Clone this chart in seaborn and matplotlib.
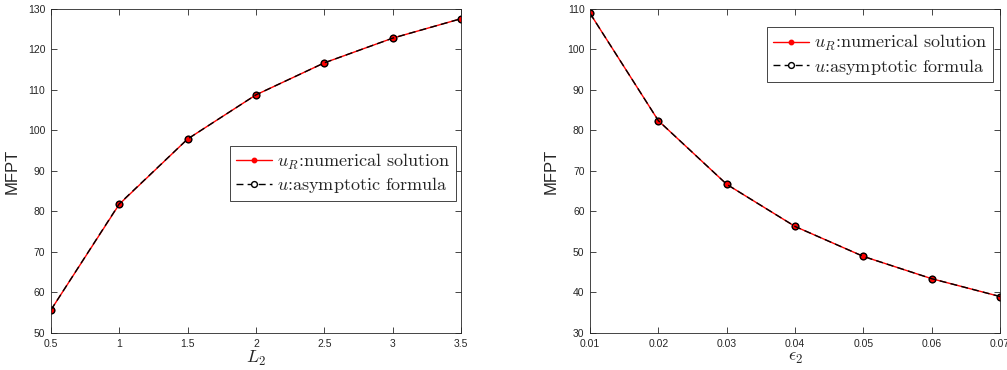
import seaborn as sns
import matplotlib.pyplot as plt
from matplotlib.lines import Line2D
import pandas as pd
import numpy as np

# data
L2 = [0.5, 1.0, 1.5, 2.0, 2.5, 3.0, 3.5]
mfpt_L2_num = [55.7, 81.8, 97.9, 108.8, 116.7, 122.8, 127.6]
mfpt_L2_asy = [55.7, 81.9, 97.9, 108.8, 116.7, 122.8, 127.6]

eps2 = [0.01, 0.02, 0.03, 0.04, 0.05, 0.06, 0.07]
mfpt_eps_num = [108.9, 82.4, 66.7, 56.3, 48.9, 43.4, 39.0]
mfpt_eps_asy = [108.9, 82.4, 66.7, 56.3, 48.9, 43.4, 39.0]

sns.set_style("ticks")
plt.rcParams['font.family'] = ['Liberation Sans', 'DejaVu Sans']
plt.rcParams['mathtext.fontset'] = 'cm'

fig = plt.figure(figsize=(10.07, 3.70), dpi=100)
ax1 = fig.add_axes([0.0506, 0.1, 0.4072, 0.8757])
ax2 = fig.add_axes([0.586, 0.1, 0.4072, 0.8757])

lab_num = r'$u_R$:numerical solution'
lab_asy = r'$u$:asymptotic formula'


def draw(ax, x, y_num, y_asy, xlabel, xticklabels, ylim, yticks, legend_loc):
    df = pd.DataFrame({'x': x, 'num': y_num, 'asy': y_asy})
    sns.lineplot(data=df, x='x', y='num', color='red', lw=1.0, ax=ax)
    sns.lineplot(data=df, x='x', y='asy', color='black', lw=1.0, ax=ax)
    red, black = ax.lines[0], ax.lines[1]
    red.set_marker('o')
    red.set_markersize(4.6)
    red.set_markerfacecolor('red')
    red.set_markeredgecolor('red')
    black.set_linestyle((0, (5, 3)))
    black.set_marker('o')
    black.set_markersize(4.8)
    black.set_markerfacecolor('none')
    black.set_markeredgecolor('black')
    black.set_markeredgewidth(1.0)
    ax.set_xlim(x[0], x[-1])
    ax.set_ylim(*ylim)
    ax.set_xticks(x)
    ax.set_xticklabels(xticklabels)
    ax.set_yticks(yticks)
    ax.tick_params(direction='in', top=True, right=True, labelsize=7.5,
                   colors='#262626', length=4, width=0.6, pad=4)
    for s in ax.spines.values():
        s.set_linewidth(0.6)
        s.set_color('#262626')
    ax.set_xlabel(xlabel, fontsize=13, labelpad=0)
    ax.set_ylabel('MFPT', fontsize=12, labelpad=6)
    handles = [
        Line2D([], [], color='red', lw=1.0, marker='o', markersize=3.2,
               markerfacecolor='red', markeredgecolor='red'),
        Line2D([], [], color='black', lw=1.0, linestyle=(0, (5, 3)), marker='o',
               markersize=4.2, markerfacecolor='white', markeredgecolor='black'),
    ]
    leg = ax.legend(handles, [lab_num, lab_asy], loc='upper left',
                    bbox_to_anchor=legend_loc, prop={'family': 'cmr10', 'size': 13},
                    frameon=True, fancybox=False, framealpha=1, edgecolor='#262626',
                    handlelength=2.0, handletextpad=0.3, borderpad=0.3,
                    labelspacing=0.2, borderaxespad=0)
    leg.get_frame().set_linewidth(0.6)


draw(ax1, L2, mfpt_L2_num, mfpt_L2_asy, r'$L_2$',
     ['0.5', '1', '1.5', '2', '2.5', '3', '3.5'],
     (50, 130), range(50, 131, 10), (0.437, 0.577))

draw(ax2, eps2, mfpt_eps_num, mfpt_eps_asy, r'$\epsilon_2$',
     ['0.01', '0.02', '0.03', '0.04', '0.05', '0.06', '0.07'],
     (30, 110), range(30, 111, 10), (0.432, 0.943))

fig.savefig('out.png', dpi=100, facecolor='white')
plt.close()
